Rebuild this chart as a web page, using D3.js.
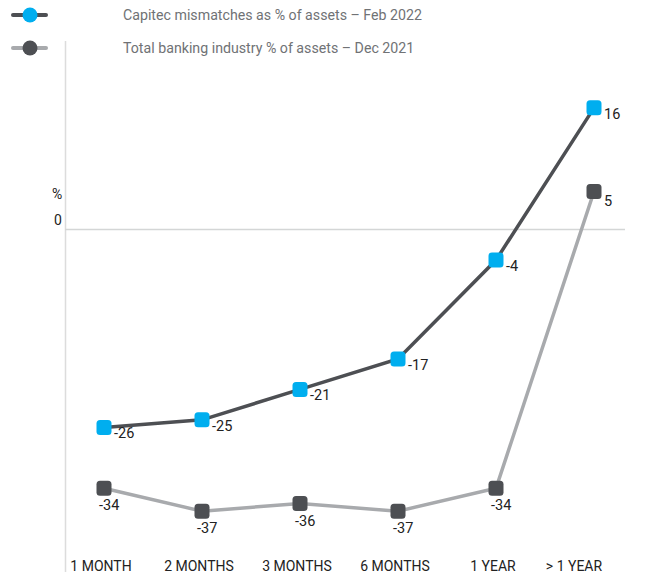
<!DOCTYPE html>
<html lang="en">
<head>
    <meta charset="UTF-8">
    <script src="https://d3js.org/d3.v7.min.js"></script>
    <title>Maturity mismatches</title>
    <style>
        body {
            margin: 0;
            font-family: Roboto, "Noto Sans", Arial, sans-serif;
            background: #fff;
        }
        .lbl { font-size: 14.5px; fill: #222; }
        .tick-lbl { font-size: 14px; fill: #222; }
        .legend text { font-size: 14.2px; fill: #707275; }
    </style>
</head>
<body>
    <script>
        // data
        const categories = ['1 MONTH', '2 MONTHS', '3 MONTHS', '6 MONTHS', '1 YEAR', '> 1 YEAR'];
        const capitec = [-26, -25, -21, -17, -4, 16];
        const industry = [-34, -37, -36, -37, -34, 5];
        const seriesNames = ['Capitec mismatches as % of assets – Feb 2022', 'Total banking industry % of assets – Dec 2021'];

        const width = 650, height = 577;
        const blue = '#00aeef', dark = '#4d4f53', grey = '#a8aaad';

        const svg = d3.select('body').append('svg')
            .attr('width', width)
            .attr('height', height);

        // scales
        const x = d3.scalePoint().domain(categories).range([104, 594]);
        const y = d3.scaleLinear().domain([-45, 24]).range([572, 47]);

        // y axis line + zero line
        svg.append('line')
            .attr('x1', 65.5).attr('x2', 65.5)
            .attr('y1', 41).attr('y2', y(-45))
            .attr('stroke', '#dcdcdc').attr('stroke-width', 1.5);
        svg.append('line')
            .attr('x1', 65).attr('x2', 625)
            .attr('y1', y(0)).attr('y2', y(0))
            .attr('stroke', '#d4d6d6').attr('stroke-width', 1.5);
        svg.append('text').attr('class', 'tick-lbl')
            .attr('x', 54).attr('y', y(0) - 5).text('0');
        svg.append('text').attr('class', 'tick-lbl')
            .attr('x', 52).attr('y', y(0) - 31).text('%');

        // x labels
        svg.append('g').selectAll('text')
            .data(categories)
            .join('text')
            .attr('class', 'tick-lbl')
            .attr('x', (d, i) => x(d) - (i === categories.length - 1 ? 20 : 3))
            .attr('y', 571)
            .attr('text-anchor', 'middle')
            .text((d) => d);

        const line = d3.line()
            .x((d, i) => x(categories[i]))
            .y((d) => y(d));

        // industry series
        svg.append('path')
            .attr('d', line(industry))
            .attr('fill', 'none')
            .attr('stroke', grey)
            .attr('stroke-width', 3.5);
        // capitec series
        svg.append('path')
            .attr('d', line(capitec))
            .attr('fill', 'none')
            .attr('stroke', dark)
            .attr('stroke-width', 3.5);

        const ms = 15;
        svg.append('g').selectAll('rect')
            .data(industry)
            .join('rect')
            .attr('x', (d, i) => x(categories[i]) - ms / 2)
            .attr('y', (d) => y(d) - ms / 2)
            .attr('width', ms).attr('height', ms)
            .attr('rx', 3.5)
            .attr('fill', dark);
        svg.append('g').selectAll('rect')
            .data(capitec)
            .join('rect')
            .attr('x', (d, i) => x(categories[i]) - ms / 2)
            .attr('y', (d) => y(d) - ms / 2)
            .attr('width', ms).attr('height', ms)
            .attr('rx', 3.5)
            .attr('fill', blue);

        // value labels
        svg.append('g').selectAll('text')
            .data(capitec)
            .join('text')
            .attr('class', 'lbl')
            .attr('x', (d, i) => x(categories[i]) + 10)
            .attr('y', (d) => y(d) + 11)
            .text((d) => d);
        svg.append('g').selectAll('text')
            .data(industry)
            .join('text')
            .attr('class', 'lbl')
            .attr('x', (d, i) => i === industry.length - 1 ? x(categories[i]) + 10 : x(categories[i]) - 5)
            .attr('y', (d, i) => i === industry.length - 1 ? y(d) + 14 : y(d) + 22)
            .text((d) => d);

        // legend
        const legend = svg.append('g').attr('class', 'legend');
        const legendRows = [
            { name: seriesNames[0], line: dark, dot: blue, y: 15 },
            { name: seriesNames[1], line: grey, dot: dark, y: 48 }
        ];
        const row = legend.selectAll('g').data(legendRows).join('g')
            .attr('transform', (d) => `translate(0,${d.y})`);
        row.append('line')
            .attr('x1', 13).attr('x2', 46)
            .attr('stroke', (d) => d.line).attr('stroke-width', 4)
            .attr('stroke-linecap', 'round');
        row.append('circle')
            .attr('cx', 30).attr('r', 7.5)
            .attr('fill', (d) => d.dot);
        row.append('text')
            .attr('x', 123).attr('y', 5)
            .text((d) => d.name);
    </script>
</body>
</html>
